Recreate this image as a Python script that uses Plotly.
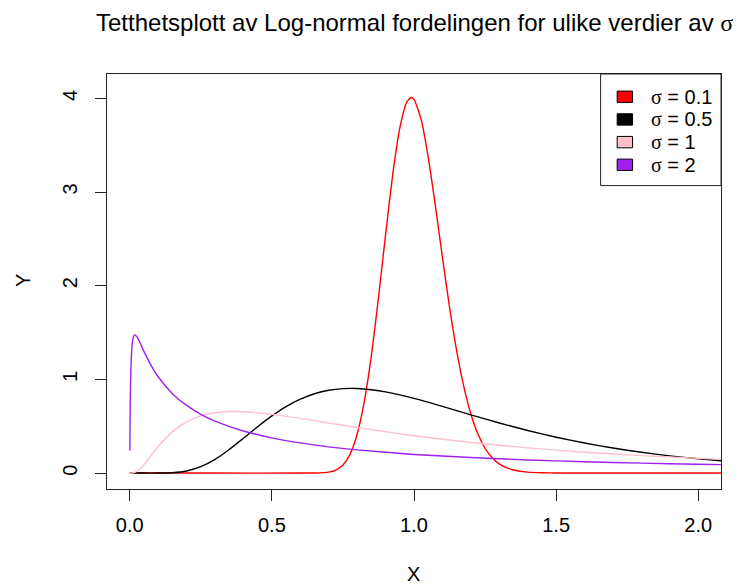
import plotly.graph_objects as go

# ---- data ----
x_s01 = [0, 0.3, 0.6, 0.65, 0.7, 0.725, 0.75, 0.775, 0.8, 0.825, 0.85, 0.875, 0.9, 0.925,
         0.95, 0.975, 0.99, 1.0, 1.025, 1.05, 1.075, 1.1, 1.125, 1.15, 1.175, 1.2, 1.225,
         1.25, 1.275, 1.3, 1.325, 1.35, 1.4, 1.45, 1.5, 1.8, 2.1]
y_s01 = [0, 0, 0.0, 0.0006, 0.0098, 0.0312, 0.085, 0.200, 0.414, 0.760, 1.253, 1.870, 2.545, 3.183,
         3.682, 3.963, 4.009, 3.989, 3.775, 3.373, 2.857, 2.303, 1.772, 1.306, 0.925, 0.631, 0.416,
         0.265, 0.164, 0.098, 0.057, 0.033, 0.010, 0.003, 0.001, 0.0, 0.0]

x_s05 = [0, 0.05, 0.1, 0.15, 0.2, 0.25, 0.3, 0.35, 0.4, 0.45, 0.5, 0.55, 0.6, 0.65, 0.7, 0.75,
         0.8, 0.85, 0.9, 1.0, 1.1, 1.2, 1.3, 1.4, 1.5, 1.6, 1.7, 1.8, 1.9, 2.0, 2.1]
y_s05 = [0, 0, 0.0002, 0.004, 0.0225, 0.068, 0.146, 0.252, 0.372, 0.495, 0.610, 0.710, 0.789,
         0.847, 0.884, 0.902, 0.903, 0.890, 0.867, 0.798, 0.712, 0.622, 0.535, 0.454, 0.383,
         0.321, 0.267, 0.222, 0.184, 0.153, 0.126]

x_s1 = [0, 0.01, 0.02, 0.035, 0.05, 0.075, 0.1, 0.15, 0.2, 0.25, 0.3, 0.35, 0.4, 0.5, 0.6, 0.7,
        0.8, 0.9, 1.0, 1.2, 1.4, 1.6, 1.8, 2.0, 2.1]
y_s1 = [0, 0.001, 0.0095, 0.0414, 0.090, 0.186, 0.282, 0.440, 0.546, 0.610, 0.644, 0.657, 0.655,
        0.627, 0.584, 0.535, 0.486, 0.441, 0.399, 0.327, 0.269, 0.223, 0.186, 0.157, 0.144]

x_s2 = [0.0004, 0.001, 0.002, 0.003, 0.005, 0.0075, 0.01, 0.015, 0.0183, 0.025, 0.03, 0.04, 0.05,
        0.075, 0.1, 0.15, 0.2, 0.25, 0.3, 0.4, 0.5, 0.6, 0.7, 0.8, 1.0, 1.2, 1.4, 1.6, 1.8, 2.0, 2.1]
y_s2 = [0.24, 0.512, 0.799, 0.979, 1.194, 1.334, 1.408, 1.467, 1.475, 1.456, 1.430, 1.366, 1.299,
        1.150, 1.028, 0.848, 0.722, 0.627, 0.555, 0.449, 0.376, 0.322, 0.280, 0.248, 0.199, 0.166,
        0.140, 0.121, 0.106, 0.094, 0.089]

series_labels = ["σ = 0.1", "σ = 0.5", "σ = 1", "σ = 2"]
series_colors = ["#FF0000", "#000000", "#FFC0CB", "#A020F0"]
x_ticks = [0, 0.5, 1.0, 1.5, 2.0]
x_tick_text = ["0.0", "0.5", "1.0", "1.5", "2.0"]
y_ticks = [0, 1, 2, 3, 4]
y_tick_text = ["0", "1", "2", "3", "4"]

title_text = "Tetthetsplott av Log-normal fordelingen for ulike verdier av <span style='font-family:Liberation Serif'>σ</span>"

# ---- layout geometry (pixels) ----
W, H = 738, 584
PL, PR, PT, PB = 106.7, 721.2, 74.0, 489.5
FONT = "Liberation Sans, Arial, Helvetica, sans-serif"


def px2x(px):
    return (px - PL) / (PR - PL)


def py2y(py):
    return (PB - py) / (PB - PT)


fig = go.Figure()
for xs, ys, col in zip([x_s01, x_s05, x_s1, x_s2], [y_s01, y_s05, y_s1, y_s2], series_colors):
    fig.add_trace(go.Scatter(x=xs, y=ys, mode="lines",
                             line=dict(color=col, width=1.4, shape="spline", smoothing=0.6),
                             showlegend=False, hoverinfo="skip"))

shapes = []
annotations = []

# legend box
shapes.append(dict(type="rect", xref="paper", yref="paper",
                   x0=px2x(600.7), x1=px2x(PR), y0=py2y(185.7), y1=py2y(PT),
                   line=dict(color="#222", width=1), fillcolor="white", layer="above"))
rows = [96.8, 119.5, 142.2, 164.9]
for cy, lab, col in zip(rows, series_labels, series_colors):
    shapes.append(dict(type="rect", xref="paper", yref="paper",
                       x0=px2x(617.3), x1=px2x(632.7), y0=py2y(cy + 5.7), y1=py2y(cy - 5.7),
                       line=dict(color="#000", width=1), fillcolor=col, layer="above"))
    txt = lab.replace("σ", "<span style='font-family:Liberation Serif'>σ</span>")
    annotations.append(dict(xref="paper", yref="paper", x=px2x(649), y=py2y(cy),
                            xanchor="left", yanchor="middle", text=txt, showarrow=False,
                            font=dict(family=FONT, size=20, color="#000")))

# title
annotations.append(dict(xref="paper", yref="paper", x=px2x(414), y=py2y(22),
                        xanchor="center", yanchor="middle", text=title_text, showarrow=False,
                        font=dict(family=FONT, size=24, color="#000")))
# axis titles
annotations.append(dict(xref="paper", yref="paper", x=px2x(413), y=py2y(575),
                        xanchor="center", yanchor="middle", text="X", showarrow=False,
                        font=dict(family=FONT, size=20, color="#000")))
annotations.append(dict(xref="paper", yref="paper", x=px2x(22), y=py2y(281),
                        xanchor="center", yanchor="middle", text="Y", showarrow=False,
                        textangle=-90, font=dict(family=FONT, size=20, color="#000")))

fig.update_layout(
    width=W, height=H,
    margin=dict(l=PL, r=W - PR, t=PT, b=H - PB, pad=0),
    paper_bgcolor="white", plot_bgcolor="white",
    shapes=shapes, annotations=annotations,
    xaxis=dict(range=[-0.08, 2.08], tickvals=x_ticks, ticktext=x_tick_text,
               ticks="outside", ticklen=11, tickwidth=1, tickcolor="#222",
               showline=True, mirror=True, linecolor="#222", linewidth=1,
               showgrid=False, zeroline=False, ticklabelstandoff=7,
               tickfont=dict(family=FONT, size=20, color="#000")),
    yaxis=dict(range=[-0.17, 4.26], tickvals=y_ticks, ticktext=y_tick_text,
               ticks="outside", ticklen=11, tickwidth=1, tickcolor="#222",
               showline=True, mirror=True, linecolor="#222", linewidth=1,
               showgrid=False, zeroline=False, tickangle=-90, ticklabelstandoff=10,
               tickfont=dict(family=FONT, size=20, color="#000")),
)

fig.write_html("out.html")
